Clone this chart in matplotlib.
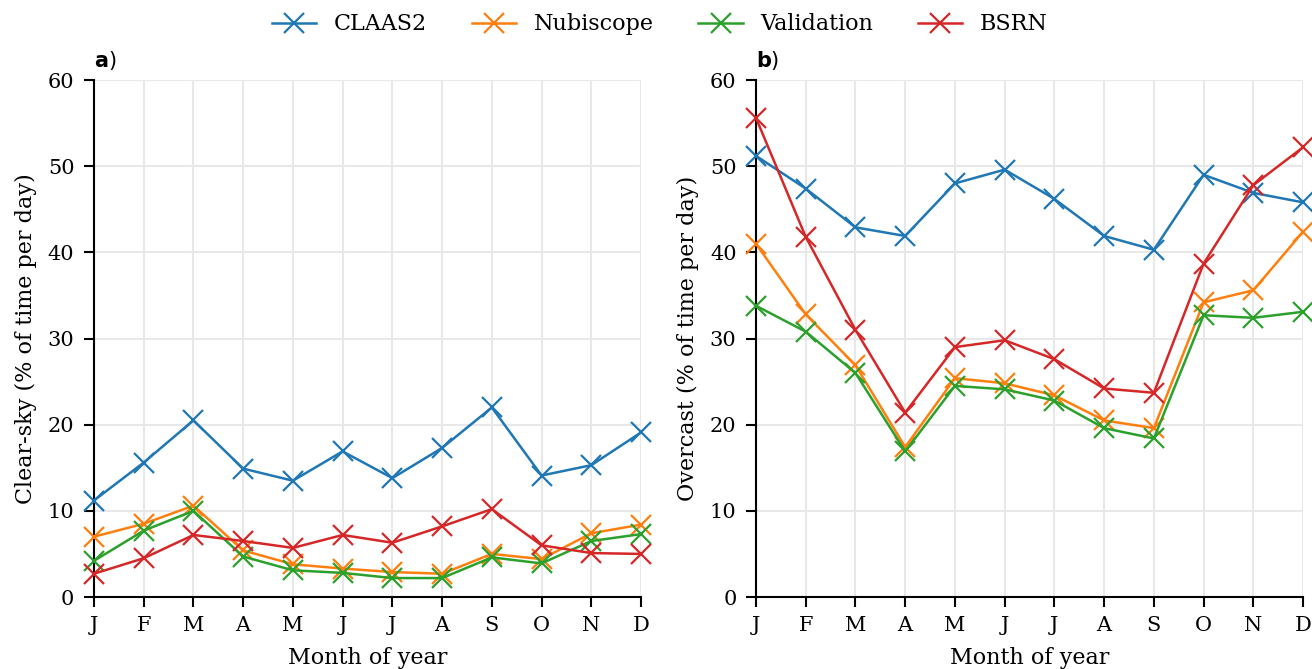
import matplotlib
matplotlib.use("Agg")
import matplotlib.pyplot as plt

months = ["J", "F", "M", "A", "M", "J", "J", "A", "S", "O", "N", "D"]
names = ["CLAAS2", "Nubiscope", "Validation", "BSRN"]
colors = ["#1f77b4", "#ff7f0e", "#2ca02c", "#d62728"]

# clear-sky fraction (% of time per day)
clear_claas2 = [11.2, 15.6, 20.5, 14.9, 13.5, 16.9, 13.8, 17.3, 22.0, 14.1, 15.3, 19.1]
clear_nubi = [7.0, 8.5, 10.6, 5.4, 3.8, 3.3, 2.9, 2.7, 5.0, 4.4, 7.4, 8.4]
clear_valid = [4.2, 7.7, 10.0, 4.7, 3.1, 2.8, 2.2, 2.2, 4.6, 3.9, 6.5, 7.3]
clear_bsrn = [2.7, 4.5, 7.2, 6.5, 5.7, 7.2, 6.3, 8.2, 10.2, 6.0, 5.1, 5.0]

# overcast fraction (% of time per day)
over_claas2 = [51.2, 47.4, 42.9, 41.9, 48.0, 49.6, 46.2, 41.9, 40.3, 49.0, 46.9, 45.8]
over_nubi = [41.0, 32.8, 26.9, 17.4, 25.4, 24.8, 23.4, 20.5, 19.6, 34.2, 35.6, 42.4]
over_valid = [33.8, 30.8, 26.0, 16.9, 24.5, 24.1, 22.8, 19.6, 18.4, 32.7, 32.4, 33.1]
over_bsrn = [55.6, 41.8, 31.0, 21.4, 29.0, 29.8, 27.6, 24.2, 23.7, 38.7, 47.8, 52.2]

clear = [clear_claas2, clear_nubi, clear_valid, clear_bsrn]
over = [over_claas2, over_nubi, over_valid, over_bsrn]

plt.rcParams["font.family"] = "DejaVu Serif"
plt.rcParams["mathtext.fontset"] = "dejavusans"
plt.rcParams["font.size"] = 16

fig = plt.figure(figsize=(13.12, 6.69), dpi=100)
ax1 = fig.add_axes([0.0716, 0.1076, 0.417, 0.7728])
ax2 = fig.add_axes([0.5762, 0.1076, 0.417, 0.7728])

x = list(range(12))
panels = [(ax1, clear, "Clear-sky (% of time per day)", "a"),
          (ax2, over, "Overcast (% of time per day)", "b")]

for ax, data, ylab, lab in panels:
    for vals, name, c in zip(data, names, colors):
        ax.plot(x, vals, marker="x", color=c, lw=1.8, ms=14, mew=1.6,
                label=name, clip_on=False, zorder=3)
    ax.set_xlim(0, 11)
    ax.set_ylim(0, 60)
    ax.set_xticks(x)
    ax.set_xticklabels(months)
    ax.set_yticks(range(0, 61, 10))
    ax.grid(True, color="#e8e8e8", lw=1.5)
    ax.set_axisbelow(True)
    for s in ["top", "right"]:
        ax.spines[s].set_visible(False)
    for s in ["left", "bottom"]:
        ax.spines[s].set_linewidth(1.5)
    ax.tick_params(width=1.5, length=7, pad=7, labelsize=15)
    ax.set_xlabel("Month of year", fontsize=16, labelpad=8)
    ax.set_ylabel(ylab, fontsize=16, labelpad=8)
    ax.text(0.0, 1.015, r"$\mathbf{" + lab + "}$)", transform=ax.transAxes,
            ha="left", va="bottom", fontsize=15, family="DejaVu Sans")

handles, labels = ax1.get_legend_handles_labels()
fig.legend(handles, labels, loc="upper center", bbox_to_anchor=(0.503, 1.01),
           ncol=4, frameon=False, fontsize=16, columnspacing=2.0)

fig.savefig("out.png", dpi=100)
